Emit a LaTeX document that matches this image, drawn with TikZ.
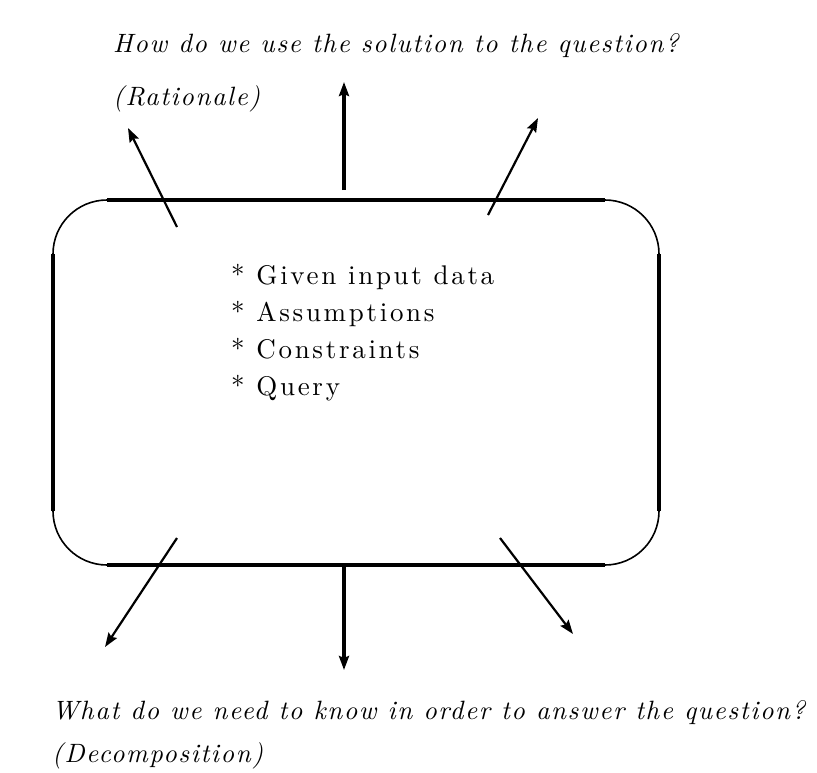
\documentclass[tikz,border=0pt]{standalone}
\usepackage{fontspec}
\usetikzlibrary{arrows.meta}

\newfontfamily\listfont{lmroman10-regular.otf}[LetterSpace=10]
\newfontfamily\remarkfont{lmroman10-italic.otf}[LetterSpace=6]

\tikzstyle{edge} = [line width=3.3pt]
\tikzstyle{corner} = [line width=1.6pt]
\tikzstyle{ray} = [line width=2.2pt, -{Stealth[length=14pt, width=10pt, inset=2pt]}]
\tikzstyle{mainray} = [ray, line width=3.3pt]
\tikzstyle{remark} = [inner sep=0pt, anchor=base west, align=left, font=\fontsize{26.5}{53}\selectfont\remarkfont]

\begin{document}
\begin{tikzpicture}[x=1pt, y=-1pt]
      \useasboundingbox (0,0) rectangle (817,772);

      % the box: straight sides heavy, corners light
      \draw[edge] (107,200) -- (605,200);
      \draw[edge] (107,565) -- (605,565);
      \draw[edge] (53,254) -- (53,511);
      \draw[edge] (659,254) -- (659,511);
      \draw[corner] (53,254) arc (180:270:54);
      \draw[corner] (605,200) arc (270:360:54);
      \draw[corner] (659,511) arc (0:90:54);
      \draw[corner] (107,565) arc (90:180:54);

      \node[inner sep=0pt, anchor=base west, align=left,
            font=\fontsize{27}{37}\selectfont\listfont]
            (facts) at (231,395) {* Given input data\\* Assumptions\\* Constraints\\* Query};

      \node[remark] (rationale) at (113,105) {How do we use the solution to the question?\\(Rationale)};
      \node[remark, font=\fontsize{26.5}{43}\selectfont\remarkfont]
            (decomposition) at (52,762) {What do we need to know in order to answer the question?\\(Decomposition)};

      \coordinate (ul) at (177,227);  \coordinate (ulend) at (128,128);
      \coordinate (uc) at (344,190);  \coordinate (ucend) at (344,82);
      \coordinate (ur) at (488,215);  \coordinate (urend) at (538,118);
      \coordinate (ll) at (177,538);  \coordinate (llend) at (105,647);
      \coordinate (lc) at (344,565);  \coordinate (lcend) at (344,670);
      \coordinate (lr) at (500,538);  \coordinate (lrend) at (573,634);

      \draw[ray] (ul) -- (ulend);
      \draw[mainray] (uc) -- (ucend);
      \draw[ray] (ur) -- (urend);
      \draw[ray] (ll) -- (llend);
      \draw[mainray] (lc) -- (lcend);
      \draw[ray] (lr) -- (lrend);
    \end{tikzpicture}
\end{document}
